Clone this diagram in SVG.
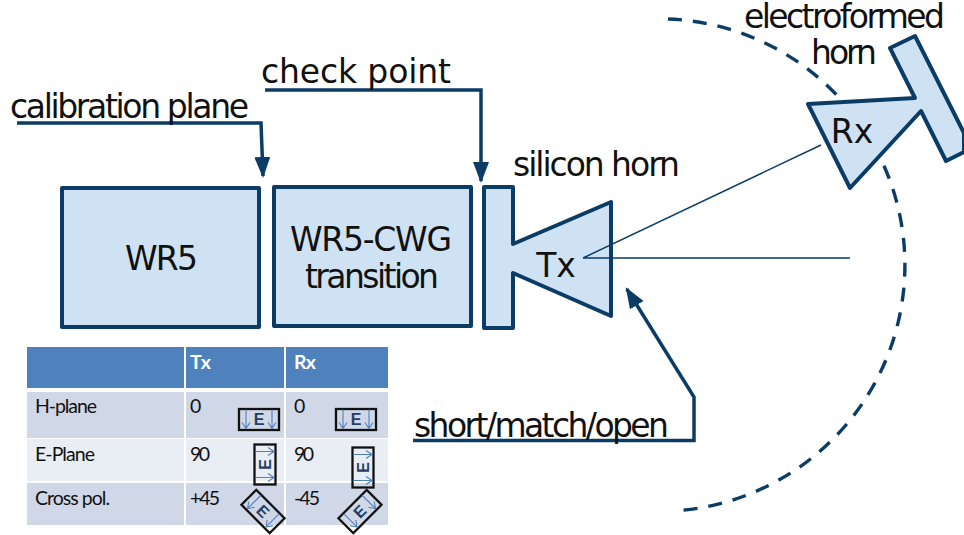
<svg xmlns="http://www.w3.org/2000/svg" width="964" height="535" viewBox="0 0 964 535">
<style>
text{font-family:"DejaVu Sans","Liberation Sans",sans-serif;fill:#111}
.shape{fill:#cfe2f3;stroke:#0b3c66;stroke-width:4;stroke-linejoin:round}
.line{fill:none;stroke:#0b3c66;stroke-width:3.5}
.thin{fill:none;stroke:#0b3c66;stroke-width:1.5}
.dash{fill:none;stroke:#0b3c66;stroke-width:3.4;stroke-dasharray:14 11}
.lbl,.big{font-size:33px}
.t{font-family:Lato,"Liberation Sans",sans-serif;font-size:19.5px}
.h{font-weight:700;fill:#fff}
.ic{fill:none;stroke:#111;stroke-width:2.3}
.ar{fill:none;stroke:#4f81bd;stroke-width:1.1}
.e{font-family:"Liberation Sans",sans-serif;font-weight:700;font-size:16px;fill:#1f3f66;text-anchor:middle}
</style>
<defs>
<marker id="head" markerUnits="userSpaceOnUse" markerWidth="22" markerHeight="18" refX="19" refY="8" orient="auto">
<path d="M0 0L21 8L0 16Z" fill="#0b3c66"/>
</marker>
<g id="pol">
<rect class="ic" x="-20" y="-10.5" width="40" height="21"/>
<path class="ar" d="M-13 -10V9M-17 3L-13 9L-9 3M13 -10V9M9 3L13 9L17 3"/>
<text class="e" x="0" y="5.5">E</text>
</g>
</defs>

<g id="table">
<rect x="27" y="347" width="157" height="41" fill="#4f81bd"/>
<rect x="186" y="347" width="98" height="41" fill="#4f81bd"/>
<rect x="286" y="347" width="102" height="41" fill="#4f81bd"/>
<rect x="27" y="392" width="157" height="46" fill="#d0d8e8"/>
<rect x="186" y="392" width="98" height="46" fill="#d0d8e8"/>
<rect x="286" y="392" width="102" height="46" fill="#d0d8e8"/>
<rect x="27" y="439" width="157" height="42" fill="#e9edf4"/>
<rect x="186" y="439" width="98" height="42" fill="#e9edf4"/>
<rect x="286" y="439" width="102" height="42" fill="#e9edf4"/>
<rect x="27" y="483" width="157" height="42" fill="#d0d8e8"/>
<rect x="186" y="483" width="98" height="42" fill="#d0d8e8"/>
<rect x="286" y="483" width="102" height="42" fill="#d0d8e8"/>
<text class="t h" x="190" y="369" textLength="21">Tx</text>
<text class="t h" x="294" y="369" textLength="22">Rx</text>
<text class="t" x="35" y="413" textLength="62">H-plane</text>
<text class="t" x="35" y="461" textLength="60">E-Plane</text>
<text class="t" x="35" y="505" textLength="75">Cross pol.</text>
<text class="t" x="190" y="413">0</text>
<text class="t" x="294" y="413">0</text>
<text class="t" x="190" y="461" textLength="20">90</text>
<text class="t" x="294" y="461" textLength="20">90</text>
<text class="t" x="190" y="505" textLength="30">+45</text>
<text class="t" x="294" y="505" textLength="26">-45</text>
<use href="#pol" transform="translate(259 419.5)"/>
<use href="#pol" transform="translate(356 419.5)"/>
<use href="#pol" transform="translate(265 464.5) rotate(-90)"/>
<use href="#pol" transform="translate(363 467.5) rotate(-90)"/>
<use href="#pol" transform="translate(263 511.5) rotate(45)"/>
<use href="#pol" transform="translate(360 511.5) rotate(-45)"/>
</g>

<g id="connectors">
<path class="dash" d="M668 19A246.3 246.3 0 0 1 673 511"/>
<path class="line" d="M17 123H261L263 176" marker-end="url(#head)"/>
<path class="line" d="M265 90H481V181" marker-end="url(#head)"/>
<path class="line" d="M413 440.500H694V397L626.800 289" marker-end="url(#head)"/>
</g>

<g id="wr5">
<rect class="shape" x="62" y="188" width="197" height="139"/>
<text class="big" x="125" y="270" textLength="73">WR5</text>
</g>
<g id="transition">
<rect class="shape" x="274" y="187" width="197" height="139"/>
<text class="big" x="290" y="251" textLength="162">WR5-CWG</text>
<text class="big" x="305" y="288" textLength="134">transition</text>
</g>
<g id="tx">
<path class="shape" d="M484 187H513V244L611 202V316L513 273V328H484Z"/>
<text class="big" x="556" y="277" text-anchor="middle">Tx</text>
</g>
<g id="rx">
<path class="shape" d="M808 104L915 98L890 48L915 36L964 133V152L946 161L921 111L850 188Z"/>
<text class="big" x="852" y="143" text-anchor="middle">Rx</text>
</g>
<g id="rays">
<path class="thin" d="M583 258L821 145M583 258H850"/>
</g>
<g id="labels">
<text class="lbl" x="10" y="118" textLength="239">calibration plane</text>
<text class="lbl" x="261" y="83" textLength="190">check point</text>
<text class="lbl" x="513" y="176" textLength="167">silicon horn</text>
<text class="lbl" x="414" y="437" textLength="255">short/match/open</text>
<text class="lbl" x="744" y="28" textLength="201">electroformed</text>
<text class="lbl" x="811" y="64" textLength="66">horn</text>
</g>
</svg>
